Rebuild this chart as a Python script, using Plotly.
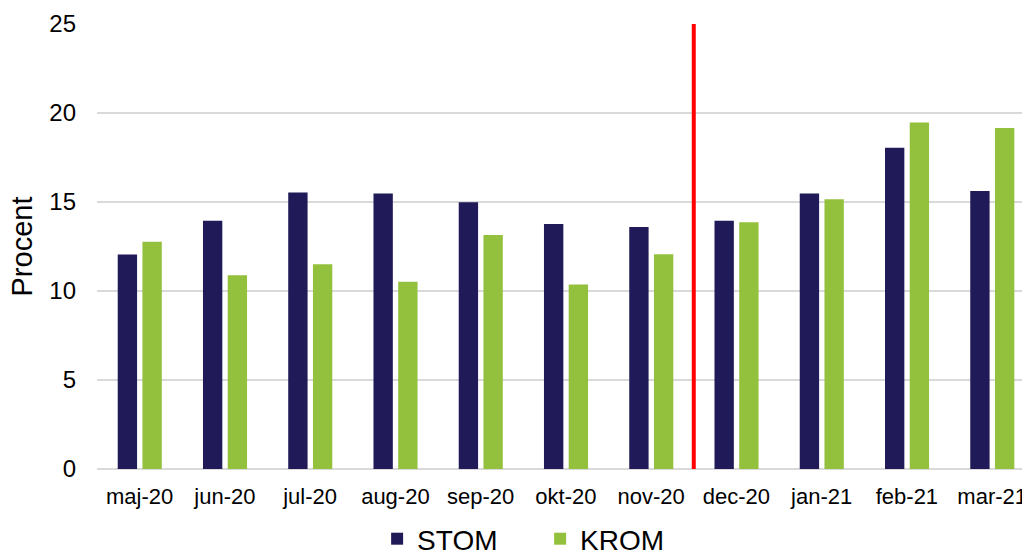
import plotly.graph_objects as go

# Monthly shares (percent) for the two series
months = ["maj-20", "jun-20", "jul-20", "aug-20", "sep-20", "okt-20",
          "nov-20", "dec-20", "jan-21", "feb-21", "mar-21"]
stom = [12.05, 13.95, 15.53, 15.48, 14.98, 13.76, 13.59, 13.95, 15.48, 18.05, 15.62]
krom = [12.76, 10.88, 11.50, 10.52, 13.14, 10.37, 12.07, 13.86, 15.15, 19.46, 19.16]
y_ticks = [0, 5, 10, 15, 20, 25]

# Break between the two periods: halfway between nov-20 and dec-20
split_at = months.index("dec-20") - 0.5

NAVY = "#201B58"
GREEN = "#94C13D"
FONT = "Liberation Sans, Arial, sans-serif"

fig = go.Figure()
fig.add_trace(go.Bar(
    name="STOM", x=months, y=stom,
    marker=dict(color=NAVY, line=dict(width=0)),
    width=0.227, offset=-0.257,
))
fig.add_trace(go.Bar(
    name="KROM", x=months, y=krom,
    marker=dict(color=GREEN, line=dict(width=0)),
    width=0.227, offset=0.033,
))

fig.add_shape(
    type="line", xref="x", yref="y",
    x0=split_at, x1=split_at, y0=0, y1=25,
    line=dict(color="#FF0000", width=4),
    layer="above",
)

fig.update_layout(
    width=1022, height=550,
    margin=dict(l=97, r=0, t=24, b=81, autoexpand=False),
    paper_bgcolor="white", plot_bgcolor="white",
    barmode="overlay",
    font=dict(family=FONT, color="#000000", size=22),
    showlegend=True,
    legend=dict(
        orientation="h",
        xref="container", yref="container",
        x=0.369, xanchor="left",
        y=0.02, yanchor="middle",
        font=dict(size=28),
        itemwidth=30,
        entrywidth=118, entrywidthmode="pixels",
        bgcolor="rgba(0,0,0,0)",
    ),
)

fig.update_xaxes(
    type="category",
    range=[-0.5, 10.35],
    showgrid=False, showline=False, ticks="",
    tickfont=dict(size=22),
    ticklabelstandoff=12,
    automargin=False,
)
fig.update_yaxes(
    range=[0, 25],
    tickvals=y_ticks,
    showgrid=True, gridcolor="#D9D9D9", gridwidth=1.5,
    zeroline=True, zerolinecolor="#D9D9D9", zerolinewidth=1.5,
    showline=False, ticks="",
    tickfont=dict(size=24),
    ticklabelstandoff=20,
    title=dict(text="Procent", font=dict(size=29), standoff=8),
    automargin=False,
)

fig.write_html("out.html")
